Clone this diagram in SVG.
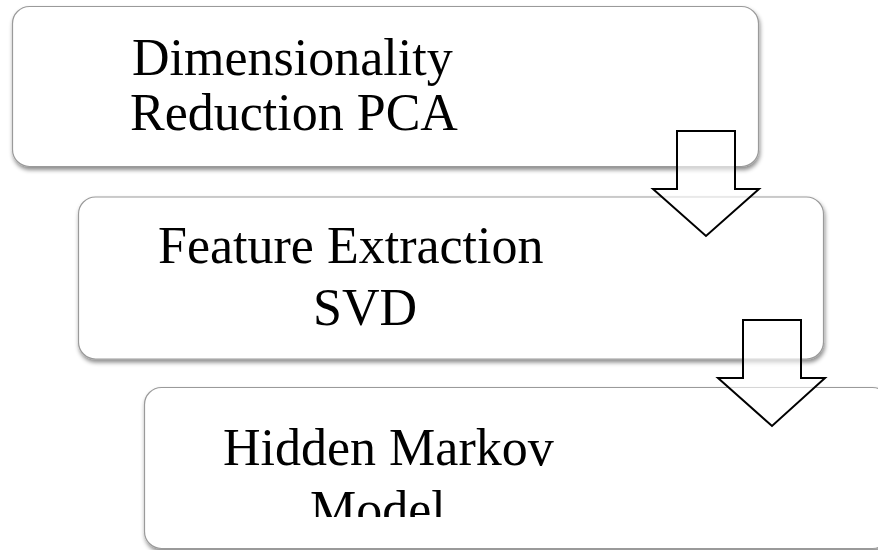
<svg xmlns="http://www.w3.org/2000/svg" width="878" height="550" viewBox="0 0 878 550">
  <defs>
    <filter id="shadow" x="-5%" y="-10%" width="115%" height="130%">
      <feDropShadow dx="1" dy="3" stdDeviation="2" flood-color="#000" flood-opacity="0.45"/>
    </filter>
    <clipPath id="clip3">
      <rect x="140" y="380" width="738" height="137"/>
    </clipPath>
  </defs>
  <style>
    .box { fill: #ffffff; stroke: #9a9a9a; stroke-width: 1.2; filter: url(#shadow); }
    .lbl { font-family: "Liberation Serif", "Times New Roman", serif; font-size: 52px; fill: #000000; }
    .arrow { fill: #ffffff; fill-opacity: 0.6; stroke: #000000; stroke-width: 2; stroke-linejoin: miter; }
  </style>
  <rect x="0" y="0" width="878" height="550" fill="#ffffff"/>
  <g id="node-dimensionality">
    <rect class="box" x="12.5" y="6.5" width="746" height="160" rx="17"/>
    <text class="lbl" x="132" y="75">Dimensionality</text>
    <text class="lbl" x="130" y="130">Reduction PCA</text>
  </g>
  <g id="node-feature">
    <rect class="box" x="78.5" y="197" width="745" height="162" rx="17"/>
    <text class="lbl" x="158" y="263">Feature Extraction</text>
    <text class="lbl" x="313" y="325">SVD</text>
  </g>
  <g id="node-hmm">
    <rect class="box" x="144.5" y="387.5" width="745" height="161" rx="17"/>
    <g clip-path="url(#clip3)">
      <text class="lbl" x="223" y="465">Hidden Markov</text>
      <text class="lbl" x="310" y="527">Model</text>
    </g>
  </g>
  <g id="connectors">
    <polygon class="arrow" points="677,131 735,131 735,189 759,189 706,236 653,189 677,189"/>
    <polygon class="arrow" points="743,320 801,320 801,378 825,378 772,426 718,378 743,378"/>
  </g>
</svg>
